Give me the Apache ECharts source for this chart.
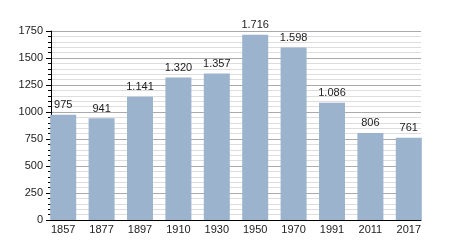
<!DOCTYPE html>
<html>
<head>
<meta charset="utf-8">
<script src="https://cdn.jsdelivr.net/npm/echarts@6/dist/echarts.min.js"></script>
<style>html,body{margin:0;padding:0;background:#fff}#c{width:450px;height:250px}</style>
</head>
<body>
<div id="c"></div>
<script>
const categories = ['1857','1877','1897','1910','1930','1950','1970','1991','2011','2017'];
const values = [975, 941, 1141, 1320, 1357, 1716, 1598, 1086, 806, 761];
const yTicks = [0, 250, 500, 750, 1000, 1250, 1500, 1750];

const chart = echarts.init(document.getElementById('c'));
const fontFamily = 'Liberation Sans, Arial, sans-serif';
function fmt(v){
  const s = String(v);
  return s.length > 3 ? s.slice(0, s.length-3) + '.' + s.slice(-3) : s;
}
chart.setOption({
  animation: false,
  grid: [
    {left: 51, right: 29, top: 31, bottom: 30},
    {left: 44, right: 22, top: 31, bottom: 30}
  ],
  xAxis: [
    {gridIndex: 0, type: 'category', data: categories,
     axisLine: {show: true, lineStyle: {color: '#000', width: 1}},
     axisTick: {show: false}, axisLabel: {show: false}, splitLine: {show: false}},
    {gridIndex: 1, type: 'category', data: categories,
     axisLine: {show: false}, axisTick: {show: false},
     axisLabel: {color: '#222', fontSize: 11, fontFamily, margin: 4}}
  ],
  yAxis: [
    {gridIndex: 0, type: 'value', min: 0, max: 1750, interval: 250,
     axisLine: {show: true, lineStyle: {color: '#000'}},
     axisTick: {show: true, length: 5, lineStyle: {color: '#000'}},
     minorTick: {show: true, splitNumber: 5, length: 3, lineStyle: {color: '#000'}},
     axisLabel: {color: '#222', fontSize: 11, fontFamily, margin: 8,
                 formatter: v => yTicks.includes(v) ? String(v) : ''},
     splitLine: {show: true, lineStyle: {color: '#aaa', width: 1}},
     minorSplitLine: {show: true, lineStyle: {color: '#ddd', width: 1}}},
    {gridIndex: 1, type: 'value', min: 0, max: 1750, interval: 250, show: false}
  ],
  series: [{
    type: 'bar', xAxisIndex: 1, yAxisIndex: 1, data: values, barWidth: 26,
    itemStyle: {color: '#9bb3cd'},
    label: {show: true, position: 'top', color: '#222', fontSize: 11, fontFamily,
            distance: 4, formatter: p => fmt(p.value)}
  }]
});
</script>
</body>
</html>
